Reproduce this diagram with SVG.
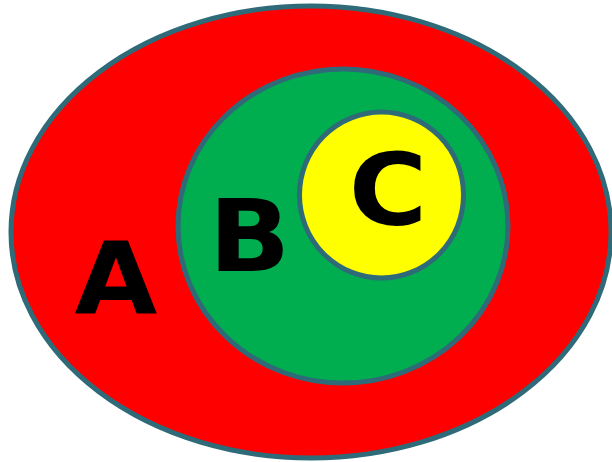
<svg xmlns="http://www.w3.org/2000/svg" width="612" height="462" viewBox="0 0 612 462">
<style>
.set{stroke:#2E6A78;stroke-width:5}
.lbl{font-family:"DejaVu Sans",sans-serif;font-weight:bold;font-size:100px;fill:#000;text-anchor:middle}
</style>
<rect width="612" height="462" fill="#fff"/>
<g id="setA">
<ellipse class="set" cx="311" cy="232" rx="300" ry="226" fill="#FF0000"/>
<text class="lbl" transform="translate(116,313) scale(1.07,1)">A</text>
</g>
<g id="setB">
<ellipse class="set" cx="343" cy="226" rx="165" ry="157" fill="#00AE4F"/>
<text class="lbl" transform="translate(249.5,271) scale(1.07,1)">B</text>
</g>
<g id="setC">
<ellipse class="set" cx="381.5" cy="195" rx="82" ry="83" fill="#FFFF00"/>
<text class="lbl" transform="translate(388,225) scale(1.07,1)">C</text>
</g>
<g id="connectors"/>
</svg>
